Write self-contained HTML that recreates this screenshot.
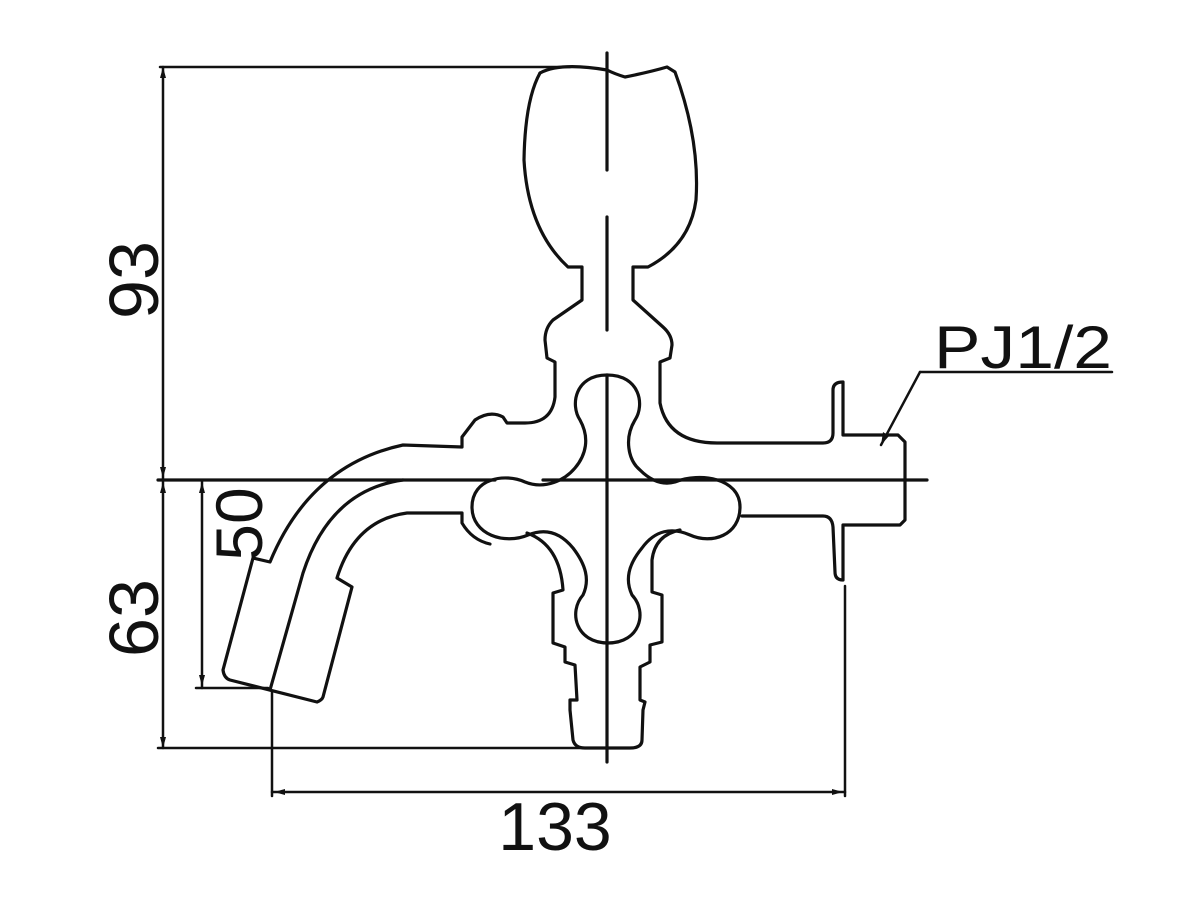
<!DOCTYPE html>
<html><head><style>html,body{margin:0;padding:0;background:#fff}svg{display:block}</style></head>
<body>
<svg width="1200" height="900" viewBox="0 0 1200 900" xmlns="http://www.w3.org/2000/svg">
<g fill="none" stroke="#111" stroke-width="3.2" stroke-linejoin="round" stroke-linecap="round">
<line x1="160" y1="67" x2="570" y2="67" stroke-width="2.5"/>
<line x1="163" y1="67" x2="163" y2="748" stroke-width="2.5"/>
<line x1="158" y1="480" x2="495" y2="480"/>
<line x1="543" y1="480" x2="927" y2="480"/>
<line x1="158" y1="748" x2="605" y2="748" stroke-width="2.5"/>
<line x1="202" y1="480" x2="202" y2="688" stroke-width="2.5"/>
<line x1="196" y1="688" x2="268" y2="688" stroke-width="2.5"/>
<line x1="272" y1="692" x2="272" y2="796" stroke-width="2.5"/>
<line x1="845" y1="586" x2="845" y2="796" stroke-width="2.5"/>
<line x1="272" y1="792" x2="845" y2="792" stroke-width="2.5"/>
<line x1="920" y1="372" x2="1112" y2="372" stroke-width="2.5"/>
<line x1="920" y1="372" x2="881" y2="445" stroke-width="2.5"/>
<line x1="607" y1="53" x2="607" y2="170"/>
<line x1="607" y1="217" x2="607" y2="330"/>
<line x1="607" y1="375" x2="607" y2="762"/>

<path d="M540,73 Q560,62 607,70 Q615,74 625,77 Q650,72 667,67 L675,72 Q700,140 696,200 Q690,245 648,267 L633,267 L633,300 L663,327 Q672,335 672,345 L670,358 L660,362 L660,403 Q668,443 717,443 L823,443 Q833,443 833,433 L833,390 Q833,382 843,382 L843,435 L898,435 L905,442 L905,520 L900,525 L843,525 L843,580 Q835,580 835,572 L833,527 Q832,516 823,516 L742,516"/>
<path d="M540,73 Q525,100 524,160 Q528,230 568,267 L582,267 L582,300 L553,320 Q545,328 545,340 L547,358 L555,362 L555,397 Q552,423 525,423 L507,423 L503,417 Q490,410 475,420 L462,437 L462,447 L403,445 Q310,465 270,562 L253,558 L223,670 Q224,678 230,680 L317,702 Q322,700 323,697 L352,587 L337,578 Q355,520 407,513 L462,513 L462,523 Q472,540 490,544"/>
<path d="M270,690 L303,573 Q330,490 403,480"/>
<path d="M607,375 C640,375 645,405 635,420 C624,438 628,460 640,470 C648,478 660,486 675,482 C700,472 740,478 740,507 C740,535 712,545 690,535 C672,527 655,530 642,548 C628,565 625,580 632,595 C648,612 640,643 608,643 C576,643 568,612 583,595 C590,580 586,565 573,548 C560,532 545,528 528,535 C505,545 472,535 472,507 C472,478 505,473 525,482 C545,490 565,480 575,468 C586,455 590,438 580,420 C570,405 575,375 607,375 Z"/>
<path d="M527,533 Q560,545 563,590 L553,593 L553,643 L565,647 L565,662 L575,665 L577,700 L570,700 L570,710 L573,740 Q575,748 585,748 L630,748 Q642,748 642,740 L643,710 L645,702 L640,700 L640,667 L650,662 L650,645 L662,642 L662,595 L652,592 L652,560 Q655,535 680,530"/>
</g>
<g fill="#111">
<polygon points="163,67 160,78 166,78"/>
<polygon points="163,478 160,467 166,467"/>
<polygon points="163,482 160,493 166,493"/>
<polygon points="163,748 160,737 166,737"/>
<polygon points="202,482 199,493 205,493"/>
<polygon points="202,686 199,675 205,675"/>
<polygon points="274,792 285,789 285,795"/>
<polygon points="843,792 832,789 832,795"/>
<polygon points="881,445 883,432 889,436"/>
</g>
<g font-family="Liberation Sans, sans-serif" fill="#111">
<text x="0" y="0" font-size="70" text-anchor="middle" transform="translate(158,280) rotate(-90)">93</text>
<text x="0" y="0" font-size="70" text-anchor="middle" transform="translate(158,618) rotate(-90)">63</text>
<text x="0" y="0" font-size="66" text-anchor="middle" transform="translate(262,524) rotate(-90)">50</text>
<text x="555" y="850" font-size="68" text-anchor="middle">133</text>
<text x="934" y="368" font-size="60" textLength="178" lengthAdjust="spacingAndGlyphs">PJ1/2</text>
</g>
</svg>
</body></html>
